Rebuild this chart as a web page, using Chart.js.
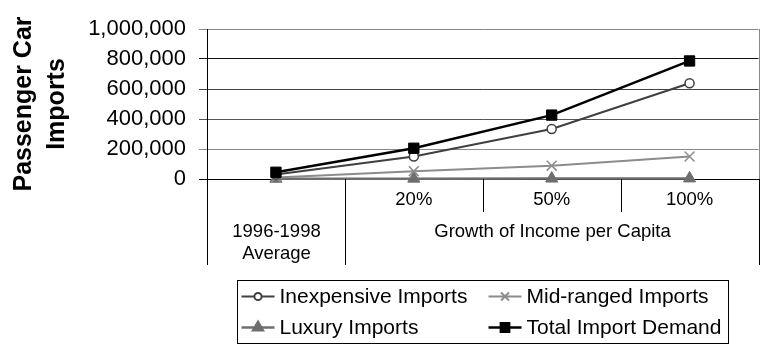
<!DOCTYPE html>
<html lang="en">
<head>
  <meta charset="UTF-8" />
  <title>Passenger Car Imports</title>
  <script src="https://cdn.jsdelivr.net/npm/chart.js"></script>
  <style>
    html, body { margin: 0; padding: 0; background: #fff; }
    canvas { display: block; }
  </style>
</head>
<body>
  <canvas id="grafico" width="767" height="349"></canvas>

  <script>
    // categories, tick labels and the two-level axis groups
    const categories = ['1996-1998 Average', '20%', '50%', '100%'];
    const tickLabels = ['', '20%', '50%', '100%'];
    const groups = [
      { label: ['1996-1998', 'Average'], from: 0, to: 0 },
      { label: ['Growth of Income per Capita'], from: 1, to: 3 }
    ];
    const yTicks = [0, 200000, 400000, 600000, 800000, 1000000];

    // series
    const inexpensive = [30000, 150000, 333000, 638000];
    const midRanged = [10000, 52000, 89000, 150000];
    const luxury = [1500, 2500, 3000, 4000];
    const totalDemand = [45000, 205000, 426000, 787000];

    const FONT = 'Arial, "Liberation Sans", sans-serif';
    const gridShades = ['#000', '#888', '#555', '#444', '#111', '#888'];

    // category axis: separators below the plot and the group captions
    const catAxis = {
      id: 'catAxis',
      afterDraw(chart) {
        const { ctx, chartArea: a, scales: { x } } = chart;
        const half = (x.getPixelForTick(1) - x.getPixelForTick(0)) / 2;
        const edge = i => Math.round(x.getPixelForTick(0) - half + i * 2 * half) + 0.5;
        const starts = groups.map(g => g.from);

        ctx.save();
        ctx.lineWidth = 1;
        ctx.strokeStyle = '#000';
        for (let i = 0; i <= categories.length; i++) {
          const long = starts.includes(i) || i === categories.length;
          ctx.beginPath();
          ctx.moveTo(edge(i), a.bottom);
          ctx.lineTo(edge(i), long ? x.bottom : a.bottom + 33);
          ctx.stroke();
        }
        // plot frame on the right
        ctx.strokeStyle = '#888';
        ctx.beginPath();
        ctx.moveTo(edge(categories.length), a.top);
        ctx.lineTo(edge(categories.length), a.bottom);
        ctx.stroke();

        ctx.fillStyle = '#000';
        ctx.font = '18.5px ' + FONT;
        ctx.textAlign = 'center';
        ctx.textBaseline = 'middle';
        groups.forEach(g => {
          const cx = (edge(g.from) + edge(g.to + 1)) / 2;
          g.label.forEach((line, k) => ctx.fillText(line, cx, a.bottom + 53 + k * 21.5));
        });
        ctx.restore();
      }
    };

    // boxed two-column legend under the plot
    const legendW = 491, legendH = 63;
    const boxLegend = {
      id: 'boxLegend',
      afterDraw(chart) {
        const { ctx, chartArea: a, scales: { x } } = chart;
        const left = Math.round((a.left + a.right - legendW) / 2) + 0.5;
        const top = Math.round(x.bottom + 15) + 0.5;
        ctx.save();
        ctx.strokeStyle = '#000';
        ctx.lineWidth = 1;
        ctx.strokeRect(left, top, legendW, legendH);
        ctx.font = '21px ' + FONT;
        ctx.textBaseline = 'middle';
        chart.data.datasets.forEach((ds, i) => {
          const sx = left + 4 + (i % 2) * 247;
          const sy = top + 16 + Math.floor(i / 2) * 31;
          ctx.strokeStyle = ds.borderColor;
          ctx.lineWidth = ds.borderWidth;
          ctx.beginPath();
          ctx.moveTo(sx, sy);
          ctx.lineTo(sx + 33, sy);
          ctx.stroke();
          ctx.fillStyle = ds.pointBackgroundColor;
          ctx.strokeStyle = ds.pointBorderColor;
          Chart.helpers.drawPoint(ctx, {
            pointStyle: ds.pointStyle,
            radius: ds.pointRadius * 0.8,
            borderWidth: ds.pointBorderWidth,
            rotation: 0
          }, sx + 16.5, sy);
          ctx.fillStyle = '#000';
          ctx.fillText(ds.label, sx + 38, sy + 1);
        });
        ctx.restore();
      }
    };

    const ctx = document.getElementById('grafico').getContext('2d');
    new Chart(ctx, {
      type: 'line',
      data: {
        labels: categories,
        datasets: [
          {
            label: 'Inexpensive Imports',
            data: inexpensive,
            borderColor: '#404040',
            borderWidth: 2,
            pointStyle: 'circle',
            pointRadius: 4.5,
            pointBackgroundColor: '#fff',
            pointBorderColor: '#404040',
            pointBorderWidth: 1.5,
            order: 1
          },
          {
            label: 'Mid-ranged Imports',
            data: midRanged,
            borderColor: '#8c8c8c',
            borderWidth: 2,
            pointStyle: 'crossRot',
            pointRadius: 7,
            pointBackgroundColor: '#8c8c8c',
            pointBorderColor: '#8c8c8c',
            pointBorderWidth: 1.5,
            order: 2
          },
          {
            label: 'Luxury Imports',
            data: luxury,
            borderColor: '#6e6e6e',
            borderWidth: 2.5,
            pointStyle: 'triangle',
            pointRadius: 7,
            pointBackgroundColor: '#6e6e6e',
            pointBorderColor: '#6e6e6e',
            pointBorderWidth: 1,
            order: 3
          },
          {
            label: 'Total Import Demand',
            data: totalDemand,
            borderColor: '#000',
            borderWidth: 2.5,
            pointStyle: 'rect',
            pointRadius: 7.3,
            pointBackgroundColor: '#000',
            pointBorderColor: '#000',
            pointBorderWidth: 1,
            order: 0
          }
        ]
      },
      options: {
        responsive: false,
        animation: false,
        devicePixelRatio: 1,
        layout: { padding: { top: 29, right: 0, bottom: 84, left: 0 } },
        elements: { line: { tension: 0 } },
        datasets: { line: { clip: false } },
        plugins: {
          legend: { display: false },
          tooltip: { enabled: false }
        },
        scales: {
          x: {
            offset: true,
            afterFit: s => { s.height = 86; },
            grid: { display: false, drawTicks: false },
            border: { display: true, color: '#000', width: 1 },
            ticks: {
              padding: 10,
              color: '#000',
              font: { family: FONT, size: 18.5 },
              maxRotation: 0,
              autoSkip: false,
              callback: (v, i) => tickLabels[i]
            }
          },
          y: {
            min: 0,
            max: 1000000,
            afterFit: s => { s.width = 207; },
            afterBuildTicks: s => { s.ticks = yTicks.map(v => ({ value: v })); },
            grid: {
              color: c => gridShades[c.index],
              tickLength: 8
            },
            border: { display: true, color: '#000', width: 1 },
            ticks: {
              padding: 13,
              color: '#000',
              font: { family: FONT, size: 22 },
              callback: v => v.toLocaleString('en-US')
            },
            title: {
              display: true,
              text: ['Passenger Car', 'Imports'],
              color: '#000',
              font: { family: FONT, size: 25, weight: 'bold', lineHeight: 1.3 },
              padding: { top: 8, bottom: 0 }
            }
          }
        }
      },
      plugins: [catAxis, boxLegend]
    });
  </script>
</body>
</html>
